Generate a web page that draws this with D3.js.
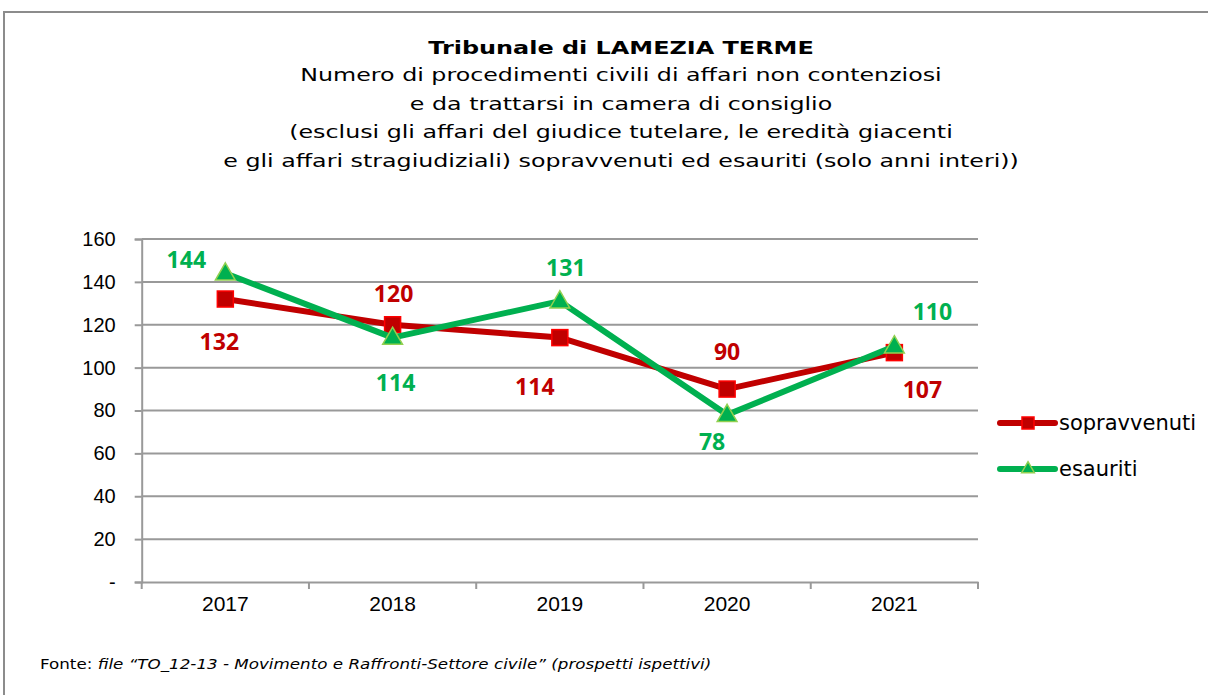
<!DOCTYPE html>
<html>
<head>
<meta charset="utf-8">
<script src="https://cdn.jsdelivr.net/npm/d3@7"></script>
<style>
  body { margin: 0; background: #fff; }
  svg { display: block; }
</style>
</head>
<body>
<svg id="chart"></svg>
<script>
// values
var years = ["2017", "2018", "2019", "2020", "2021"];
var sopravvenuti = [132, 120, 114, 90, 107];
var esauriti = [144, 114, 131, 78, 110];
var yTicks = [0, 20, 40, 60, 80, 100, 120, 140, 160];
var seriesNames = ["sopravvenuti", "esauriti"];
var titleLines = [
  "Numero di procedimenti civili di affari non contenziosi",
  "e da trattarsi in camera di consiglio",
  "(esclusi gli affari del giudice tutelare, le eredità giacenti",
  "e gli affari stragiudiziali) sopravvenuti ed esauriti (solo anni interi))"
];

// label nudges (px) so the numbers sit where the original puts them
var redLabelOff = [[-6, 42], [1, -32], [-25, 48], [0, -38], [28, 36]];
var greenLabelOff = [[-39, -14], [3, 44], [6, -34], [-15, 26], [38, -35]];

var width = 1208, height = 695;
var svg = d3.select("#chart").attr("width", width).attr("height", height);

// the original picture is stretched sideways, so texts get a horizontal scale
function place(sel, px, py, sx) {
  return sel.attr("transform", "translate(" + px + "," + py + ") scale(" + sx + ",1)");
}

// chart area border
svg.append("rect")
   .attr("x", 4).attr("y", 12)
   .attr("width", 1400).attr("height", 900)
   .attr("fill", "none")
   .attr("stroke", "#8c8c8c")
   .attr("stroke-width", 2);

// title
var titleX = 621;
place(svg.append("text"), titleX, 54, 1.33)
   .attr("text-anchor", "middle")
   .style("font-family", "DejaVu Sans")
   .style("font-weight", "bold")
   .style("font-size", "18px")
   .text("Tribunale di LAMEZIA TERME");
svg.selectAll(".sub")
   .data(titleLines)
   .enter().append("text")
   .attr("class", "sub")
   .attr("transform", function(d, i) { return "translate(" + titleX + "," + (81 + i * 28.5) + ") scale(1.32,1)"; })
   .attr("text-anchor", "middle")
   .style("font-family", "DejaVu Sans")
   .style("font-size", "18px")
   .text(function(d) { return d; });

var plot = {left: 141.7, right: 978, top: 239, bottom: 582};

var x = d3.scaleBand().domain(years).range([plot.left, plot.right]);
var y = d3.scaleLinear().domain([0, 160]).range([plot.bottom, plot.top]);

var gridColor = "#999";

// gridlines
svg.append("g")
   .selectAll("line")
   .data(yTicks.filter(function(d) { return d > 0; }))
   .enter().append("line")
   .attr("x1", plot.left).attr("x2", plot.right)
   .attr("y1", function(d) { return y(d); })
   .attr("y2", function(d) { return y(d); })
   .attr("stroke", gridColor)
   .attr("stroke-width", 2);

// y axis
var yAxis = svg.append("g")
   .attr("transform", "translate(" + plot.left + ",0)")
   .call(d3.axisLeft(y).tickValues(yTicks).tickSize(7).tickPadding(19)
     .tickFormat(function(d) { return d === 0 ? "-" : d; }));
yAxis.select(".domain").attr("stroke", gridColor).attr("stroke-width", 2);
yAxis.selectAll(".tick line").attr("stroke", gridColor).attr("stroke-width", 2);
yAxis.selectAll(".tick text")
   .style("font-family", "Liberation Sans")
   .style("font-size", "20px")
   .attr("fill", "#000");

// x axis, ticks at category boundaries
var xAxis = svg.append("g")
   .attr("transform", "translate(0," + plot.bottom + ")")
   .call(d3.axisBottom(x).tickSize(0).tickPadding(14));
xAxis.select(".domain").attr("stroke", gridColor).attr("stroke-width", 2);
xAxis.selectAll(".tick text")
   .style("font-family", "Liberation Sans")
   .style("font-size", "21px")
   .attr("fill", "#000");
var bounds = years.map(function(d) { return x(d); }).concat([plot.right]);
svg.append("g")
   .selectAll("line")
   .data(bounds)
   .enter().append("line")
   .attr("x1", function(d) { return d; }).attr("x2", function(d) { return d; })
   .attr("y1", plot.bottom).attr("y2", plot.bottom + 7)
   .attr("stroke", gridColor)
   .attr("stroke-width", 2);

var cx = function(d, i) { return x(years[i]) + x.bandwidth() / 2; };
var line = d3.line()
   .x(function(d, i) { return cx(d, i); })
   .y(function(d) { return y(d); });

var red = "#C00000", green = "#00B050";
var tri = d3.symbol().type(d3.symbolTriangle);

// sopravvenuti
svg.append("path").datum(sopravvenuti)
   .attr("d", line).attr("fill", "none")
   .attr("stroke", red).attr("stroke-width", 6).attr("stroke-linejoin", "round");
svg.selectAll(".sq").data(sopravvenuti).enter().append("rect")
   .attr("class", "sq")
   .attr("x", function(d, i) { return cx(d, i) - 8; })
   .attr("y", function(d) { return y(d) - 8; })
   .attr("width", 16).attr("height", 16)
   .attr("fill", red).attr("stroke", "#FF0000").attr("stroke-width", 1.5);

// esauriti
svg.append("path").datum(esauriti)
   .attr("d", line).attr("fill", "none")
   .attr("stroke", green).attr("stroke-width", 6).attr("stroke-linejoin", "round");
svg.selectAll(".tri").data(esauriti).enter().append("path")
   .attr("class", "tri")
   .attr("d", tri.size(170))
   .attr("transform", function(d, i) { return "translate(" + cx(d, i) + "," + (y(d) + 1) + ")"; })
   .attr("fill", green).attr("stroke", "#92D050").attr("stroke-width", 1.5);

// data labels
function labels(data, off, color) {
  svg.append("g").selectAll("text").data(data).enter().append("text")
     .attr("x", function(d, i) { return cx(d, i) + off[i][0]; })
     .attr("y", function(d, i) { return y(d) + off[i][1]; })
     .attr("text-anchor", "middle")
     .attr("dominant-baseline", "central")
     .attr("fill", color)
     .style("font-family", "Open Sans")
     .style("font-weight", "bold")
     .style("font-size", "23px")
     .text(function(d) { return d; });
}
labels(sopravvenuti, redLabelOff, red);
labels(esauriti, greenLabelOff, green);

// legend
var legend = svg.append("g").selectAll("g").data(seriesNames).enter().append("g")
   .attr("transform", function(d, i) { return "translate(1000," + (423 + i * 46) + ")"; });
legend.append("line")
   .attr("x1", 0).attr("x2", 55).attr("y1", 0).attr("y2", 0)
   .attr("stroke", function(d, i) { return i === 0 ? red : green; })
   .attr("stroke-width", 6).attr("stroke-linecap", "round");
legend.filter(function(d, i) { return i === 0; }).append("rect")
   .attr("x", 22).attr("y", -6).attr("width", 12).attr("height", 12)
   .attr("fill", red).attr("stroke", "#FF0000").attr("stroke-width", 1.5);
legend.filter(function(d, i) { return i === 1; }).append("path")
   .attr("d", d3.symbol().type(d3.symbolTriangle).size(70))
   .attr("transform", "translate(28,0)")
   .attr("fill", green).attr("stroke", "#92D050").attr("stroke-width", 1.5);
legend.append("text")
   .attr("x", 59).attr("y", 0)
   .attr("dominant-baseline", "central")
   .style("font-family", "DejaVu Sans")
   .style("font-size", "21px")
   .text(function(d) { return d; });

// source note
var note = place(svg.append("text"), 40, 669, 1.24)
   .style("font-family", "DejaVu Sans")
   .style("font-size", "13.5px");
note.append("tspan").text("Fonte: ");
note.append("tspan").style("font-style", "italic")
   .text("file \u201cTO_12-13 - Movimento e Raffronti-Settore civile\u201d (prospetti ispettivi)");
</script>
</body>
</html>
